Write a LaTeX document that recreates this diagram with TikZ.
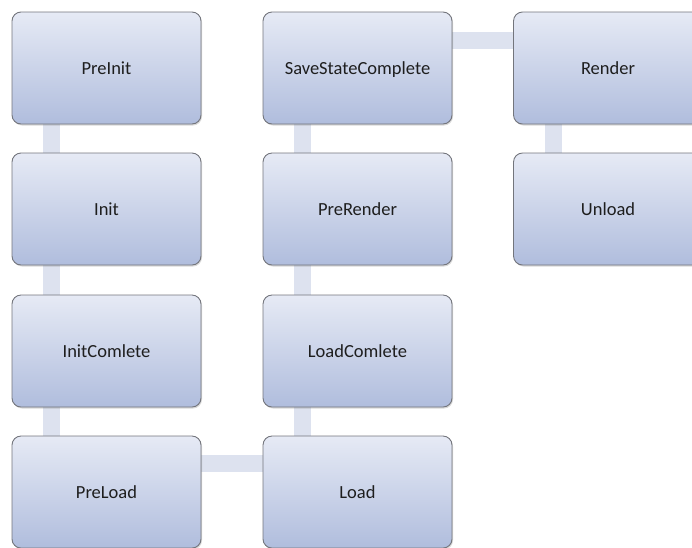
\documentclass[tikz,border=0pt]{standalone}
\usepackage{fontspec}
\setmainfont{Carlito}
\usetikzlibrary{shadows,backgrounds}

\definecolor{boxtop}{RGB}{230,234,245}
\definecolor{boxbot}{RGB}{176,189,221}
\definecolor{boxline}{RGB}{115,117,124}
\definecolor{linkfill}{RGB}{221,226,239}
\definecolor{labeltext}{RGB}{30,30,30}

\tikzset{
  stage/.style={draw=boxline, line width=0.9pt, rounded corners=9pt,
    minimum width=189pt, minimum height=112pt, inner sep=0pt,
    top color=boxtop, bottom color=boxbot,
    drop shadow={opacity=0.3, shadow xshift=1pt, shadow yshift=-1.5pt},
    text=labeltext, text depth=0pt, font=\fontsize{18.5}{22}\selectfont},
  link/.style={draw=linkfill, line width=17pt}
}

\begin{document}
\begin{tikzpicture}[x=1pt, y=-1pt]
      \useasboundingbox (0,0) rectangle (692,547);

      \node[stage] (preinit)     at (106.5,68)  {PreInit};
      \node[stage] (init)        at (106.5,209) {Init};
      \node[stage] (initcomlete) at (106.5,351) {InitComlete};
      \node[stage] (preload)     at (106.5,492) {PreLoad};

      \node[stage] (savestate)   at (357.5,68)  {SaveStateComplete};
      \node[stage] (prerender)   at (357.5,209) {PreRender};
      \node[stage] (loadcomlete) at (357.5,351) {LoadComlete};
      \node[stage] (load)        at (357.5,492) {Load};

      \node[stage] (render)      at (608,68)    {Render};
      \node[stage] (unload)      at (608,209)   {Unload};

      \begin{pgfonlayer}{background}
        \draw[link] ([xshift=40pt]preinit.south west)     -- ([xshift=40pt]init.north west);
        \draw[link] ([xshift=40pt]init.south west)        -- ([xshift=40pt]initcomlete.north west);
        \draw[link] ([xshift=40pt]initcomlete.south west) -- ([xshift=40pt]preload.north west);
        \draw[link] ([yshift=-28pt]preload.north east)    -- ([yshift=-28pt]load.north west);
        \draw[link] ([xshift=40pt]loadcomlete.south west) -- ([xshift=40pt]load.north west);
        \draw[link] ([xshift=40pt]prerender.south west)   -- ([xshift=40pt]loadcomlete.north west);
        \draw[link] ([xshift=40pt]savestate.south west)   -- ([xshift=40pt]prerender.north west);
        \draw[link] ([yshift=-29pt]savestate.north east)  -- ([yshift=-29pt]render.north west);
        \draw[link] ([xshift=40pt]render.south west)      -- ([xshift=40pt]unload.north west);
      \end{pgfonlayer}
    \end{tikzpicture}
\end{document}
